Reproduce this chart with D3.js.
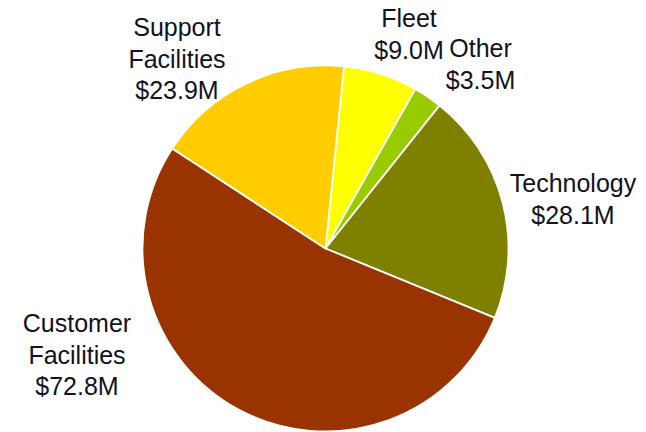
<!DOCTYPE html>
<html>
<head>
<meta charset="utf-8">
<script src="https://cdn.jsdelivr.net/npm/d3@7"></script>
<style>
  html, body { margin: 0; padding: 0; background: #ffffff; }
  svg { display: block; }
</style>
</head>
<body>
<svg id="chart" width="646" height="432"></svg>
<script>
// Data (clockwise order starting just right of 12 o'clock)
const categories = ["Fleet", "Other", "Technology", "Customer Facilities", "Support Facilities"];
const values = [9.0, 3.5, 28.1, 72.8, 23.9];
const labelLines = [
  ["Fleet", "$9.0M"],
  ["Other", "$3.5M"],
  ["Technology", "$28.1M"],
  ["Customer", "Facilities", "$72.8M"],
  ["Support", "Facilities", "$23.9M"]
];
const colors = ["#FFFF00", "#99CC00", "#808000", "#993300", "#FFCC00"];

// Layout
const cx = 325.5, cy = 248.5, r = 183;
const startDeg = 5.8;
const labelPos = [
  { x: 409, y: 27 },
  { x: 480.5, y: 57 },
  { x: 573, y: 192 },
  { x: 77, y: 332 },
  { x: 177, y: 36 }
];
const lineH = 31.5;

const svg = d3.select("#chart");
const data = categories.map((c, i) => ({ name: c, value: values[i], lines: labelLines[i], color: colors[i] }));

const start = startDeg * Math.PI / 180;
const pie = d3.pie().sort(null).value(d => d.value).startAngle(start).endAngle(start + 2 * Math.PI);
const arc = d3.arc().innerRadius(0).outerRadius(r);

const g = svg.append("g").attr("transform", `translate(${cx},${cy})`);
g.selectAll("path").data(pie(data)).join("path")
  .attr("d", arc)
  .attr("fill", d => d.data.color)
  .attr("stroke", "#ffffff")
  .attr("stroke-width", 1.8)
  .attr("stroke-linejoin", "round");

const lab = svg.append("g")
  .attr("font-family", "Liberation Sans, Arial, sans-serif")
  .attr("font-size", 25)
  .attr("fill", "#111122")
  .attr("text-anchor", "middle");

data.forEach((d, i) => {
  const t = lab.append("text").attr("x", labelPos[i].x).attr("y", labelPos[i].y);
  d.lines.forEach((ln, j) => {
    t.append("tspan").attr("x", labelPos[i].x).attr("y", labelPos[i].y + j * lineH).text(ln);
  });
});
</script>
</body>
</html>
